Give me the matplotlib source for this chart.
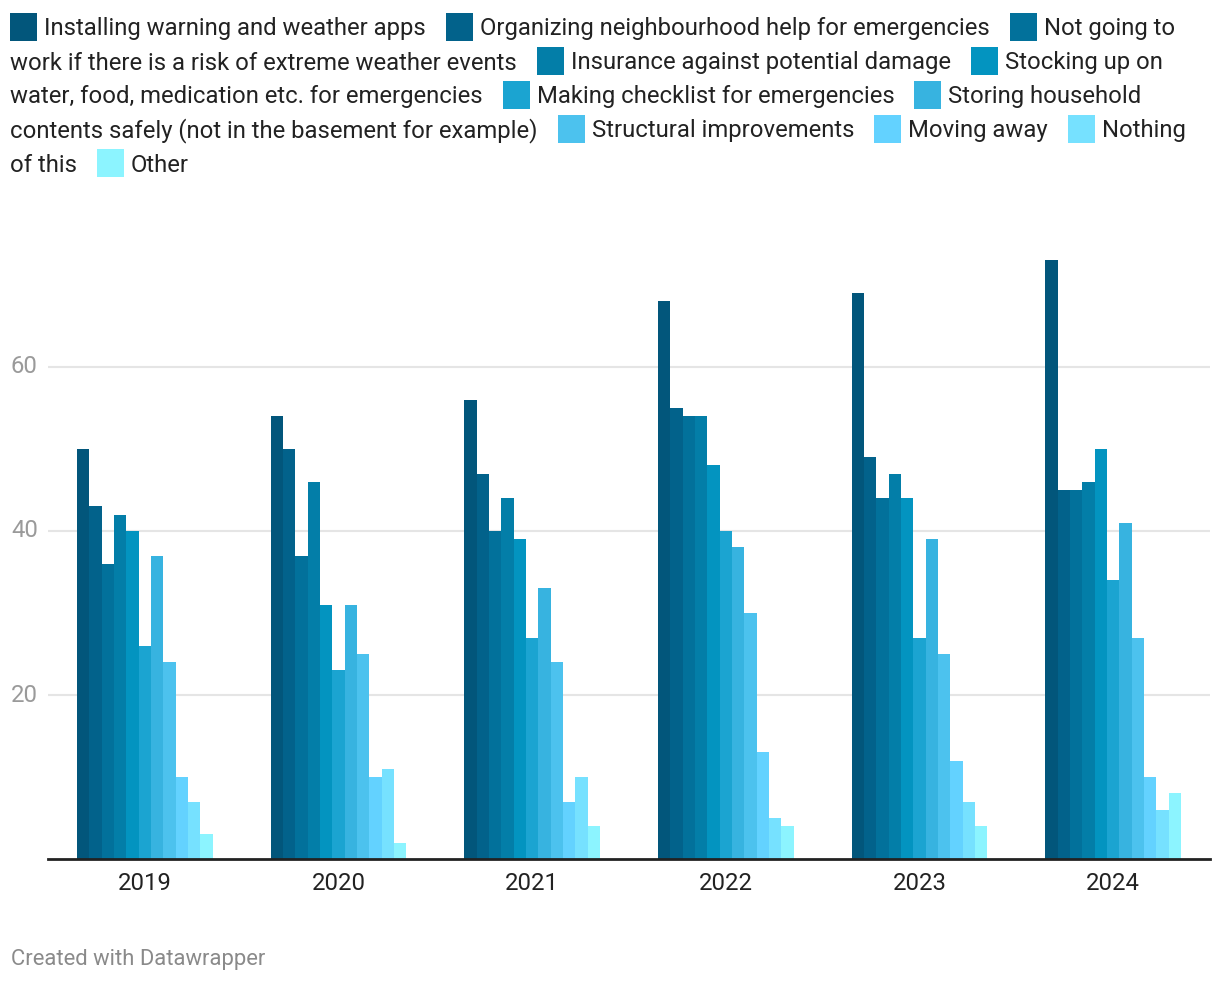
import numpy as np
import matplotlib
matplotlib.use("Agg")
import matplotlib.pyplot as plt
from matplotlib import transforms
from matplotlib.patches import Rectangle

plt.rcParams['font.family'] = ['Roboto', 'DejaVu Sans']

# ----------------------------
# Data
# ----------------------------
years = ["2019", "2020", "2021", "2022", "2023", "2024"]
measures = [
    "Installing warning and weather apps",
    "Organizing neighbourhood help for emergencies",
    "Not going to work if there is a risk of extreme weather events",
    "Insurance against potential damage",
    "Stocking up on water, food, medication etc. for emergencies",
    "Making checklist for emergencies",
    "Storing household contents safely (not in the basement for example)",
    "Structural improvements",
    "Moving away",
    "Nothing of this",
    "Other",
]
# one row per measure, one column per year
values = np.array([
    [50, 54, 56, 68, 69, 73],
    [43, 50, 47, 55, 49, 45],
    [36, 37, 40, 54, 44, 45],
    [42, 46, 44, 54, 47, 46],
    [40, 31, 39, 48, 44, 50],
    [26, 23, 27, 40, 27, 34],
    [37, 31, 33, 38, 39, 41],
    [24, 25, 24, 30, 25, 27],
    [10, 10, 7, 13, 12, 10],
    [7, 11, 10, 5, 7, 6],
    [3, 2, 4, 4, 4, 8],
])
colors = ["#02567b", "#02628b", "#02719b", "#037ea8", "#0394c0", "#1ba4d1",
          "#37b3e0", "#4cc2ee", "#63d2ff", "#76e1ff", "#8cf4ff"]
yticks = [20, 40, 60]

# ----------------------------
# Figure / axes layout (pixels)
# ----------------------------
W, H = 1220, 982
FS = 17.2
fig = plt.figure(figsize=(W / 100, H / 100), dpi=100)
ax_left, ax_right, ax_base, ax_top = 48, 1210, 859, 203
ax = fig.add_axes([ax_left / W, 1 - ax_base / H,
                   (ax_right - ax_left) / W, (ax_base - ax_top) / H])

n = len(measures)
group_w = 0.702
bw = group_w / n
x = np.arange(len(years))
for j in range(n):
    ax.bar(x + (j - (n - 1) / 2) * bw, values[j], width=bw,
           color=colors[j], linewidth=0, zorder=2)

ax.set_xlim(-0.5, len(years) - 0.5)
ax.set_ylim(0, 80)
ax.set_xticks(x)
ax.set_xticklabels(years, fontsize=FS, color="#222222")
ax.tick_params(axis='x', length=0, pad=9.5)
ax.set_yticks(yticks)
ax.set_yticklabels([])
ax.tick_params(axis='y', length=0)
ax.grid(axis='y', color="#e5e5e5", linewidth=1.5, zorder=0)
ax.set_axisbelow(True)
for s in ["top", "right", "left"]:
    ax.spines[s].set_visible(False)
ax.spines["bottom"].set_color("#222222")
ax.spines["bottom"].set_linewidth(2)
ax.spines["bottom"].set_zorder(3)

# y labels sit left of the gridlines
ytrans = transforms.blended_transform_factory(fig.transFigure, ax.transData)
for v in yticks:
    ax.text(11 / W, v, str(v), transform=ytrans, ha='left', va='center',
            fontsize=FS, color="#9a9a9a")

# ----------------------------
# Inline wrapped legend (Datawrapper style)
# ----------------------------
renderer = fig.canvas.get_renderer()


def text_w(s):
    t = fig.text(0, 0, s, fontsize=FS)
    w = t.get_window_extent(renderer).width
    t.remove()
    return w


def put_text(px, line, s):
    yb = 27 + line * 34 + 8.5
    fig.text(px / W, 1 - yb / H, s, fontsize=FS, color="#222222",
             ha='left', va='baseline')


def put_square(px, line, c):
    yc = 27 + line * 34
    fig.patches.append(Rectangle((px / W, 1 - (yc + 14) / H), 27 / W, 28 / H,
                                 transform=fig.transFigure, color=c,
                                 linewidth=0))


x0, xmax = 10, 1210
sq, sq_gap, item_gap = 27, 7, 20
cx, line = x0, 0
for label, c in zip(measures, colors):
    words = label.split()
    if cx > x0 and cx + sq + sq_gap + text_w(words[0]) > xmax:
        cx, line = x0, line + 1
    put_square(cx, line, c)
    start = cx + sq + sq_gap
    run = []
    for wd in words:
        if run and start + text_w(" ".join(run + [wd])) > xmax:
            put_text(start, line, " ".join(run))
            start, line, run = x0, line + 1, [wd]
        else:
            run.append(wd)
    put_text(start, line, " ".join(run))
    cx = start + text_w(" ".join(run)) + item_gap

fig.text(11 / W, 1 - 965 / H, "Created with Datawrapper", fontsize=15.8,
         color="#8a8a8a", ha='left', va='baseline')

fig.savefig("out.png", dpi=100, facecolor="white")
